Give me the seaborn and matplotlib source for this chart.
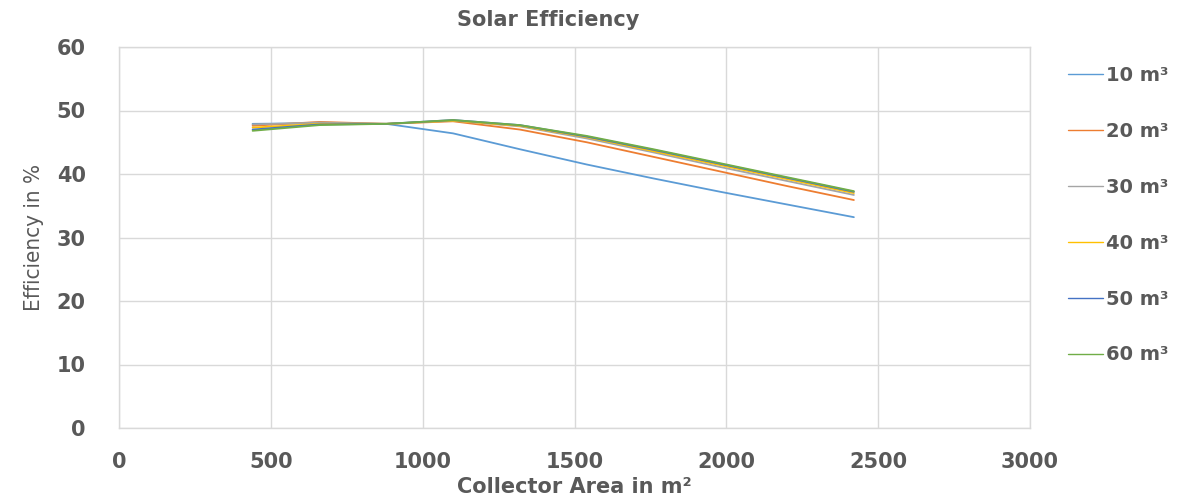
import matplotlib
matplotlib.use("Agg")
import matplotlib.pyplot as plt
import seaborn as sns
import pandas as pd

# ---- data ----
area = [440, 660, 880, 1100, 1320, 1540, 1760, 1980, 2200, 2420]
eff_10 = [47.9, 48.0, 47.9, 46.4, 43.9, 41.5, 39.3, 37.2, 35.2, 33.2]
eff_20 = [47.6, 48.2, 47.9, 48.3, 47.0, 45.0, 42.7, 40.4, 38.1, 35.9]
eff_30 = [47.8, 48.1, 47.9, 48.4, 47.5, 45.6, 43.4, 41.1, 38.9, 36.7]
eff_40 = [47.3, 47.9, 47.9, 48.4, 47.6, 45.8, 43.6, 41.4, 39.2, 37.0]
eff_50 = [47.0, 47.8, 47.9, 48.5, 47.7, 45.9, 43.8, 41.6, 39.4, 37.2]
eff_60 = [46.8, 47.7, 47.9, 48.5, 47.7, 46.0, 43.9, 41.7, 39.5, 37.3]
series_labels = ["10 m³", "20 m³", "30 m³", "40 m³", "50 m³", "60 m³"]
colors = ["#5B9BD5", "#ED7D31", "#A5A5A5", "#FFC000", "#4472C4", "#70AD47"]
x_ticks = [0, 500, 1000, 1500, 2000, 2500, 3000]
y_ticks = [0, 10, 20, 30, 40, 50, 60]

all_series = [eff_10, eff_20, eff_30, eff_40, eff_50, eff_60]
rows = []
for lab, vals in zip(series_labels, all_series):
    for a, v in zip(area, vals):
        rows.append({"Area": a, "Efficiency": v, "Volume": lab})
df = pd.DataFrame(rows)

sns.set_theme(style="whitegrid", rc={"grid.color": "#D9D9D9", "grid.linewidth": 1.0,
                                     "axes.edgecolor": "#D9D9D9"})
plt.rcParams["font.family"] = ["DejaVu Sans"]

txt = "#595959"
fig = plt.figure(figsize=(11.8, 4.99), dpi=100)
ax = fig.add_axes([119 / 1180, 1 - 428 / 499, (1030 - 119) / 1180, (428 - 47) / 499])

sns.lineplot(data=df, x="Area", y="Efficiency", hue="Volume", palette=colors,
             linewidth=1.3, ax=ax, legend=True, sort=False)

ax.set_xlim(0, 3000)
ax.set_ylim(0, 60)
ax.set_xticks(x_ticks)
ax.set_yticks(y_ticks)
ax.tick_params(axis="x", length=0, labelsize=15, labelcolor=txt, pad=17)
ax.tick_params(axis="y", length=0, labelsize=15, labelcolor=txt, pad=24)
for lbl in ax.get_xticklabels() + ax.get_yticklabels():
    lbl.set_fontweight("bold")
for s in ax.spines.values():
    s.set_color("#D9D9D9")
    s.set_linewidth(1.0)

ax.set_xlabel("Collector Area in m²", fontsize=15, fontweight="bold", color=txt, labelpad=4)
ax.set_ylabel("Efficiency in %", fontsize=16, color=txt, labelpad=9,
              fontstretch="condensed")

fig.text(548 / 1180, 1 - 20 / 499, "Solar Efficiency", ha="center", va="center",
         fontsize=15, fontweight="bold", color=txt)

handles, labels = ax.get_legend_handles_labels()
ax.get_legend().remove()
leg = fig.legend(handles, labels, loc="upper left", bbox_to_anchor=(1060 / 1180, 1 - 58 / 499),
                 frameon=False, fontsize=14, labelspacing=1.9, handlelength=1.8,
                 handletextpad=0.15, borderaxespad=0)
for t in leg.get_texts():
    t.set_color(txt)
    t.set_fontweight("bold")
for h in leg.get_lines():
    h.set_linewidth(1.0)

fig.savefig("out.png", dpi=100)
